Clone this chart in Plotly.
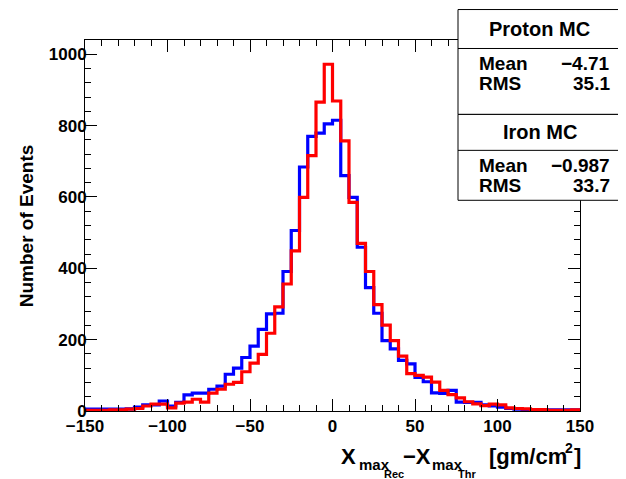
import plotly.graph_objects as go

# ---- data ----
bin_low = list(range(-150, 150, 5))  # lower bin edges (bin width 5)
bin_width = 5

proton_counts = [5, 5, 5, 5, 5, 6, 11, 17, 17, 28,
                 14, 24, 45, 50, 50, 61, 70, 103, 120, 150,
                 182, 229, 272, 274, 391, 506, 684, 770, 779, 805,
                 815, 660, 599, 459, 346, 274, 197, 174, 142, 132,
                 94, 82, 51, 49, 58, 25, 24, 24, 17, 14,
                 11, 7, 5, 4, 4, 3, 3, 3, 3, 3]

iron_counts = [2, 2, 2, 3, 3, 5, 7, 14, 19, 19,
               9, 22, 25, 33, 25, 50, 61, 75, 80, 110,
               134, 159, 218, 292, 356, 449, 599, 716, 866, 972,
               869, 757, 585, 470, 391, 298, 241, 197, 154, 105,
               100, 95, 81, 58, 46, 37, 26, 20, 15, 19,
               17, 9, 7, 6, 4, 4, 2, 2, 2, 3]

x_ticks = [-150, -100, -50, 0, 50, 100, 150]
y_ticks = [0, 200, 400, 600, 800, 1000]

proton_stats = {"title": "Proton MC", "Mean": "\u22124.71", "RMS": "35.1"}
iron_stats = {"title": "Iron MC", "Mean": "\u22120.987", "RMS": "33.7"}

# ---- layout geometry (window pixels; page has an 8px body margin) ----
OFF = 8
W, H = 626 - OFF, 479 - OFF
L, R, T, B = 85, 580, 39.5, 411  # plot frame in window pixels


def px(x):
    return (x - L) / (R - L)


def py(y):
    return (B - y) / (B - T)


def steps(counts):
    xs = bin_low + [bin_low[-1] + bin_width]
    ys = counts + [counts[-1]]
    return xs, ys


FONT = "Liberation Sans"

fig = go.Figure()
for counts, color, name in [(proton_counts, "#0000ff", "Proton MC"),
                            (iron_counts, "#ff0000", "Iron MC")]:
    xs, ys = steps(counts)
    fig.add_trace(go.Scatter(x=xs, y=ys, mode="lines", name=name,
                             line=dict(shape="hv", color=color, width=3.2),
                             showlegend=False, hoverinfo="skip"))

fig.update_layout(
    width=W, height=H,
    margin=dict(l=L - OFF, r=W - (R - OFF), t=T - OFF, b=H - (B - OFF), pad=0),
    paper_bgcolor="white", plot_bgcolor="white",
    font=dict(family=FONT, size=17, color="black", weight="bold"),
    xaxis=dict(range=[-150, 150], tickvals=x_ticks, ticks="inside", ticklen=12,
               tickwidth=1, tickcolor="black", showline=True, linecolor="black",
               linewidth=1, mirror="allticks", showgrid=False, zeroline=False,
               minor=dict(dtick=10, ticks="inside", ticklen=6, tickcolor="black",
                          showgrid=False),
               tickfont=dict(family=FONT, size=17, weight="bold")),
    yaxis=dict(range=[0, 1040], tickvals=y_ticks, ticks="inside", ticklen=12,
               tickwidth=1, tickcolor="black", showline=True, linecolor="black",
               linewidth=1, mirror="allticks", showgrid=False, zeroline=False,
               ticklabelstandoff=-6,
               minor=dict(dtick=40, ticks="inside", ticklen=6, tickcolor="black",
                          showgrid=False),
               tickfont=dict(family=FONT, size=17, weight="bold")),
)

# y-axis title
fig.add_annotation(text="Number of Events", xref="paper", yref="paper",
                   x=px(26), y=py(226), textangle=-90, showarrow=False,
                   xanchor="center", yanchor="middle",
                   font=dict(family=FONT, size=19, weight="bold"))

# x-axis title pieces
xt = [
    ("X", 339, 457, 22),
    ("max", 357, 465, 15),
    ("Rec", 382, 474, 11),
    ("\u2212X", 401, 457, 22),
    ("max", 430, 465, 15),
    ("Thr", 456, 474, 11),
    ("[gm/cm", 487, 457, 22),
    ("2", 563, 448, 14),
    ("]", 572, 457, 22),
]
for txt, x0, y0, sz in xt:
    fig.add_annotation(text=txt, xref="paper", yref="paper", x=px(x0), y=py(y0),
                       showarrow=False, xanchor="left", yanchor="middle",
                       font=dict(family=FONT, size=sz, weight="bold"))

# stats boxes
BX0, BX1 = 458, 621
boxes = [(proton_stats, 9, 48, 114), (iron_stats, 114, 150, 200)]
for st, y0, ysep, y1 in boxes:
    fig.add_shape(type="rect", xref="paper", yref="paper",
                  x0=px(BX0), x1=px(BX1), y0=py(y1), y1=py(y0),
                  line=dict(color="black", width=1), fillcolor="white", layer="above")
    fig.add_shape(type="line", xref="paper", yref="paper",
                  x0=px(BX0), x1=px(BX1), y0=py(ysep), y1=py(ysep),
                  line=dict(color="black", width=1), layer="above")
    fig.add_annotation(text=st["title"], xref="paper", yref="paper",
                       x=px((BX0 + BX1) / 2), y=py((y0 + ysep) / 2),
                       showarrow=False, xanchor="center", yanchor="middle",
                       font=dict(family=FONT, size=20, weight="bold"))
    for i, key in enumerate(["Mean", "RMS"]):
        yy = ysep + 15 + i * 20.5
        fig.add_annotation(text=key, xref="paper", yref="paper",
                           x=px(477), y=py(yy), showarrow=False,
                           xanchor="left", yanchor="middle",
                           font=dict(family=FONT, size=19, weight="bold"))
        fig.add_annotation(text=st[key], xref="paper", yref="paper",
                           x=px(612), y=py(yy), showarrow=False,
                           xanchor="right", yanchor="middle",
                           font=dict(family=FONT, size=19, weight="bold"))

fig.write_html("out.html")
